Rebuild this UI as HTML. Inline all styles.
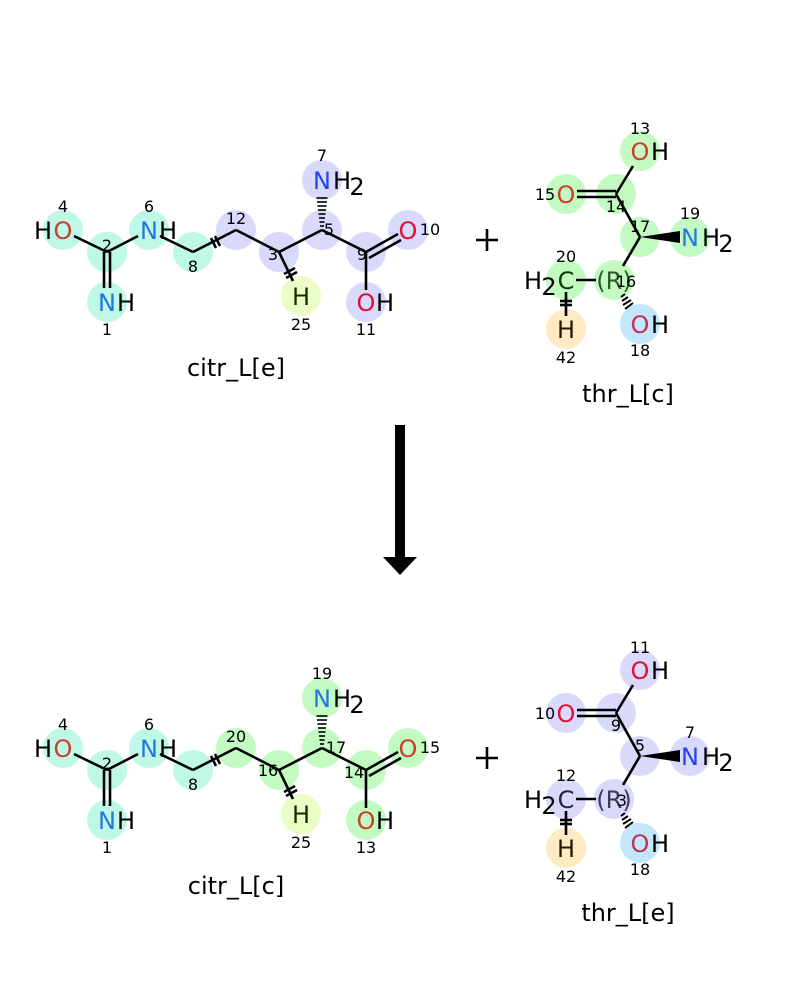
<!DOCTYPE html>
<html><head><meta charset="utf-8"><style>
html,body{margin:0;padding:0;background:#fff;overflow:hidden}
svg{display:block}
text{font-family:"DejaVu Sans","Liberation Sans",sans-serif}
.a{font-size:24px;text-anchor:middle}
.n{font-size:16px;text-anchor:middle;fill:#000}
.t{font-size:24px;text-anchor:middle;fill:#000}
.b{stroke:#000;stroke-width:2.6;fill:none}
circle{r:20px}
</style></head><body>
<svg width="800" height="1000" viewBox="0 0 800 1000" xmlns="http://www.w3.org/2000/svg">
<rect width="800" height="1000" fill="#fff"/>

<!-- ===== TOP LEFT citr_L[e] ===== -->
<g>
<g>
<circle cx="63" cy="230" r="20" fill="#bff8e6"/>
<circle cx="107" cy="252" r="20" fill="#bff8e6"/>
<circle cx="107" cy="302" r="20" fill="#bff8e6"/>
<circle cx="149" cy="230" r="20" fill="#bff8e6"/>
<circle cx="193" cy="252" r="20" fill="#bff8e6"/>
<circle cx="236" cy="230" r="20" fill="#d9d9fb"/>
<circle cx="279" cy="252" r="20" fill="#d9d9fb"/>
<circle cx="301" cy="296" r="20" fill="#ebfcc6"/>
<circle cx="322" cy="230" r="20" fill="#d9d9fb"/>
<circle cx="322" cy="180" r="20" fill="#d9d9fb"/>
<circle cx="366" cy="252" r="20" fill="#d9d9fb"/>
<circle cx="408" cy="230" r="20" fill="#d9d9fb"/>
<circle cx="366" cy="302" r="20" fill="#d9d9fb"/>
</g>
<g class="b">
<line x1="74" y1="236" x2="107" y2="252"/>
<line x1="104" y1="252" x2="104" y2="288"/><line x1="110" y1="252" x2="110" y2="288"/>
<line x1="107" y1="252" x2="138" y2="236"/>
<line x1="160" y1="236" x2="193" y2="252"/>
<line x1="193" y1="252" x2="236" y2="230"/>
<line x1="211" y1="238" x2="216" y2="248"/><line x1="215" y1="236" x2="220" y2="246"/>
<line x1="236" y1="230" x2="279" y2="252"/>
<line x1="279" y1="252" x2="293" y2="281"/>
<line x1="284" y1="274" x2="295" y2="268"/><line x1="286" y1="278" x2="297" y2="272"/>
<line x1="279" y1="252" x2="322" y2="230"/>
<line x1="322" y1="230" x2="366" y2="252"/>
<line x1="366" y1="252" x2="398" y2="234"/><line x1="369" y1="258" x2="401" y2="240"/>
<line x1="366" y1="252" x2="366" y2="290"/>
</g>
<g stroke="#000" stroke-width="1.6">
<line x1="320" y1="226" x2="324" y2="226"/><line x1="319.5" y1="222" x2="324.5" y2="222"/>
<line x1="319" y1="218" x2="325" y2="218"/><line x1="318.5" y1="214" x2="325.5" y2="214"/>
<line x1="318" y1="210" x2="326" y2="210"/><line x1="317.5" y1="206" x2="326.5" y2="206"/>
<line x1="317" y1="202" x2="327" y2="202"/><line x1="316.5" y1="198" x2="327.5" y2="198"/>
</g>
<text class="a" x="43" y="239" fill="#000">H</text><text class="a" x="63" y="239" fill="#c8402a">O</text>
<text class="a" x="149" y="239" fill="#2277e0">N</text><text class="a" x="168" y="239" fill="#000">H</text>
<text class="a" x="107" y="311" fill="#2277e0">N</text><text class="a" x="126" y="311" fill="#000">H</text>
<text class="a" x="301" y="305" fill="#1a2a00">H</text>
<text class="a" x="322" y="189" fill="#2244ee">N</text><text class="a" x="342" y="189" fill="#000">H</text><text class="a" x="357" y="195" fill="#000">2</text>
<text class="a" x="408" y="239" fill="#dd1133">O</text>
<text class="a" x="366" y="311" fill="#dd1133">O</text><text class="a" x="385" y="311" fill="#000">H</text>
<text class="n" x="63" y="212">4</text><text class="n" x="149" y="212">6</text>
<text class="n" x="107" y="251" fill="#0a3a2a">2</text><text class="n" x="107" y="335">1</text>
<text class="n" x="193" y="272" fill="#0a3a2a">8</text><text class="n" x="236" y="224">12</text>
<text class="n" x="273" y="260" fill="#22224a">3</text><text class="n" x="301" y="330">25</text>
<text class="n" x="329" y="235" fill="#22224a">5</text><text class="n" x="322" y="161">7</text>
<text class="n" x="362" y="260" fill="#22224a">9</text><text class="n" x="430" y="235">10</text>
<text class="n" x="366" y="335">11</text>
<text class="t" x="236" y="376">citr_L[e]</text>
</g>

<!-- ===== BOTTOM LEFT citr_L[c] ===== -->
<g transform="translate(0,518)">
<g>
<circle cx="63" cy="230" r="20" fill="#bff8e6"/>
<circle cx="107" cy="252" r="20" fill="#bff8e6"/>
<circle cx="107" cy="302" r="20" fill="#bff8e6"/>
<circle cx="149" cy="230" r="20" fill="#bff8e6"/>
<circle cx="193" cy="252" r="20" fill="#bff8e6"/>
<circle cx="236" cy="230" r="20" fill="#c2fac2"/>
<circle cx="279" cy="252" r="20" fill="#c2fac2"/>
<circle cx="301" cy="296" r="20" fill="#ebfcc6"/>
<circle cx="322" cy="230" r="20" fill="#c2fac2"/>
<circle cx="322" cy="180" r="20" fill="#c2fac2"/>
<circle cx="366" cy="252" r="20" fill="#c2fac2"/>
<circle cx="408" cy="230" r="20" fill="#c2fac2"/>
<circle cx="366" cy="302" r="20" fill="#c2fac2"/>
</g>
<g class="b">
<line x1="74" y1="236" x2="107" y2="252"/>
<line x1="104" y1="252" x2="104" y2="288"/><line x1="110" y1="252" x2="110" y2="288"/>
<line x1="107" y1="252" x2="138" y2="236"/>
<line x1="160" y1="236" x2="193" y2="252"/>
<line x1="193" y1="252" x2="236" y2="230"/>
<line x1="211" y1="238" x2="216" y2="248"/><line x1="215" y1="236" x2="220" y2="246"/>
<line x1="236" y1="230" x2="279" y2="252"/>
<line x1="279" y1="252" x2="293" y2="281"/>
<line x1="284" y1="274" x2="295" y2="268"/><line x1="286" y1="278" x2="297" y2="272"/>
<line x1="279" y1="252" x2="322" y2="230"/>
<line x1="322" y1="230" x2="366" y2="252"/>
<line x1="366" y1="252" x2="398" y2="234"/><line x1="369" y1="258" x2="401" y2="240"/>
<line x1="366" y1="252" x2="366" y2="290"/>
</g>
<g stroke="#000" stroke-width="1.6">
<line x1="320" y1="226" x2="324" y2="226"/><line x1="319.5" y1="222" x2="324.5" y2="222"/>
<line x1="319" y1="218" x2="325" y2="218"/><line x1="318.5" y1="214" x2="325.5" y2="214"/>
<line x1="318" y1="210" x2="326" y2="210"/><line x1="317.5" y1="206" x2="326.5" y2="206"/>
<line x1="317" y1="202" x2="327" y2="202"/><line x1="316.5" y1="198" x2="327.5" y2="198"/>
</g>
<text class="a" x="43" y="239" fill="#000">H</text><text class="a" x="63" y="239" fill="#c8402a">O</text>
<text class="a" x="149" y="239" fill="#2277e0">N</text><text class="a" x="168" y="239" fill="#000">H</text>
<text class="a" x="107" y="311" fill="#2277e0">N</text><text class="a" x="126" y="311" fill="#000">H</text>
<text class="a" x="301" y="305" fill="#1a2a00">H</text>
<text class="a" x="322" y="189" fill="#2277e0">N</text><text class="a" x="342" y="189" fill="#000">H</text><text class="a" x="357" y="195" fill="#000">2</text>
<text class="a" x="408" y="239" fill="#c8402a">O</text>
<text class="a" x="366" y="311" fill="#c8402a">O</text><text class="a" x="385" y="311" fill="#000">H</text>
<text class="n" x="63" y="212">4</text><text class="n" x="149" y="212">6</text>
<text class="n" x="107" y="251" fill="#0a3a2a">2</text><text class="n" x="107" y="335">1</text>
<text class="n" x="193" y="272" fill="#0a3a2a">8</text><text class="n" x="236" y="224" fill="#0a3a0a">20</text>
<text class="n" x="268" y="258" fill="#0a3a0a">16</text><text class="n" x="301" y="330">25</text>
<text class="n" x="336" y="235" fill="#0a3a0a">17</text><text class="n" x="322" y="161">19</text>
<text class="n" x="354" y="260" fill="#0a3a0a">14</text><text class="n" x="430" y="235" fill="#0a3a0a">15</text>
<text class="n" x="366" y="335">13</text>
<text class="t" x="236" y="376">citr_L[c]</text>
</g>

<!-- ===== TOP RIGHT thr_L[c] ===== -->
<g>
<circle cx="640" cy="151" r="20" fill="#c2fac2"/>
<circle cx="616" cy="194" r="20" fill="#c2fac2"/>
<circle cx="566" cy="194" r="20" fill="#c2fac2"/>
<circle cx="640" cy="237" r="20" fill="#c2fac2"/>
<circle cx="690" cy="237" r="20" fill="#c2fac2"/>
<circle cx="614" cy="280" r="20" fill="#c2fac2"/>
<circle cx="566" cy="280" r="20" fill="#c2fac2"/>
<circle cx="566" cy="329" r="20" fill="#ffeac4"/>
<circle cx="640" cy="324" r="20" fill="#c2e6fb"/>
<g class="b">
<line x1="616" y1="194" x2="633" y2="166"/>
<line x1="577" y1="191" x2="616" y2="191"/><line x1="577" y1="197" x2="616" y2="197"/>
<line x1="616" y1="194" x2="640" y2="237"/>
<line x1="640" y1="237" x2="623" y2="266"/>
<line x1="576" y1="280" x2="596" y2="280"/>
<line x1="566" y1="292" x2="566" y2="316"/>
<line x1="560" y1="301" x2="572" y2="301"/><line x1="560" y1="305" x2="572" y2="305"/>
</g>
<polygon points="640,237 680,231 680,243" fill="#000"/>
<g stroke="#000" stroke-width="2">
<line x1="621" y1="297" x2="625" y2="294"/><line x1="622" y1="301" x2="628" y2="297"/>
<line x1="623" y1="305" x2="631" y2="300"/><line x1="625" y1="309" x2="633" y2="303"/>
</g>
<text class="a" x="640" y="160" fill="#c8402a">O</text><text class="a" x="660" y="160" fill="#000">H</text>
<text class="a" x="566" y="203" fill="#c8402a">O</text>
<text class="a" x="690" y="246" fill="#2277e0">N</text><text class="a" x="711" y="246" fill="#000">H</text><text class="a" x="726" y="252" fill="#000">2</text>
<text class="a" x="566" y="289" fill="#0a3a0a">C</text><text class="a" x="533" y="289" fill="#000">H</text><text class="a" x="549" y="295" fill="#000">2</text>
<text class="a" x="614" y="289" fill="#2a5a2a">(R)</text>
<text class="a" x="566" y="338" fill="#2a1a00">H</text>
<text class="a" x="640" y="333" fill="#c83050">O</text><text class="a" x="660" y="333" fill="#000">H</text>
<text class="n" x="640" y="134">13</text><text class="n" x="545" y="200">15</text>
<text class="n" x="616" y="212" fill="#0a3a0a">14</text><text class="n" x="640" y="232" fill="#0a3a0a">17</text>
<text class="n" x="690" y="219">19</text><text class="n" x="566" y="262">20</text>
<text class="n" x="626" y="287" fill="#0a3a0a">16</text><text class="n" x="566" y="363">42</text>
<text class="n" x="640" y="356">18</text>
<text class="t" x="628" y="402">thr_L[c]</text>
</g>

<!-- ===== BOTTOM RIGHT thr_L[e] ===== -->
<g transform="translate(0,519)">
<circle cx="640" cy="151" r="20" fill="#d9d9fb"/>
<circle cx="616" cy="194" r="20" fill="#d9d9fb"/>
<circle cx="566" cy="194" r="20" fill="#d9d9fb"/>
<circle cx="640" cy="237" r="20" fill="#d9d9fb"/>
<circle cx="690" cy="237" r="20" fill="#d9d9fb"/>
<circle cx="614" cy="280" r="20" fill="#d9d9fb"/>
<circle cx="566" cy="280" r="20" fill="#d9d9fb"/>
<circle cx="566" cy="329" r="20" fill="#ffeac4"/>
<circle cx="640" cy="324" r="20" fill="#c2e6fb"/>
<g class="b">
<line x1="616" y1="194" x2="633" y2="166"/>
<line x1="577" y1="191" x2="616" y2="191"/><line x1="577" y1="197" x2="616" y2="197"/>
<line x1="616" y1="194" x2="640" y2="237"/>
<line x1="640" y1="237" x2="623" y2="266"/>
<line x1="576" y1="280" x2="596" y2="280"/>
<line x1="566" y1="292" x2="566" y2="316"/>
<line x1="560" y1="301" x2="572" y2="301"/><line x1="560" y1="305" x2="572" y2="305"/>
</g>
<polygon points="640,237 680,231 680,243" fill="#000"/>
<g stroke="#000" stroke-width="2">
<line x1="621" y1="297" x2="625" y2="294"/><line x1="622" y1="301" x2="628" y2="297"/>
<line x1="623" y1="305" x2="631" y2="300"/><line x1="625" y1="309" x2="633" y2="303"/>
</g>
<text class="a" x="640" y="160" fill="#dd1133">O</text><text class="a" x="660" y="160" fill="#000">H</text>
<text class="a" x="566" y="203" fill="#dd1133">O</text>
<text class="a" x="690" y="246" fill="#2244ee">N</text><text class="a" x="711" y="246" fill="#000">H</text><text class="a" x="726" y="252" fill="#000">2</text>
<text class="a" x="566" y="289" fill="#22224a">C</text><text class="a" x="533" y="289" fill="#000">H</text><text class="a" x="549" y="295" fill="#000">2</text>
<text class="a" x="614" y="289" fill="#3a3a5a">(R)</text>
<text class="a" x="566" y="338" fill="#2a1a00">H</text>
<text class="a" x="640" y="333" fill="#c83050">O</text><text class="a" x="660" y="333" fill="#000">H</text>
<text class="n" x="640" y="134">11</text><text class="n" x="545" y="200">10</text>
<text class="n" x="616" y="212" fill="#22224a">9</text><text class="n" x="640" y="232" fill="#22224a">5</text>
<text class="n" x="690" y="219">7</text><text class="n" x="566" y="262">12</text>
<text class="n" x="622" y="287" fill="#22224a">3</text><text class="n" x="566" y="363">42</text>
<text class="n" x="640" y="356">18</text>
</g>
<text class="t" x="628" y="921">thr_L[e]</text>

<!-- plus signs -->
<g stroke="#000" stroke-width="2.6">
<line x1="476" y1="240" x2="498" y2="240"/><line x1="487" y1="229" x2="487" y2="251"/>
<line x1="476" y1="758" x2="498" y2="758"/><line x1="487" y1="747" x2="487" y2="769"/>
</g>

<!-- arrow -->
<rect x="395" y="425" width="10" height="134" fill="#000"/>
<polygon points="383,557 417,557 400,575" fill="#000"/>
</svg>
</body></html>
